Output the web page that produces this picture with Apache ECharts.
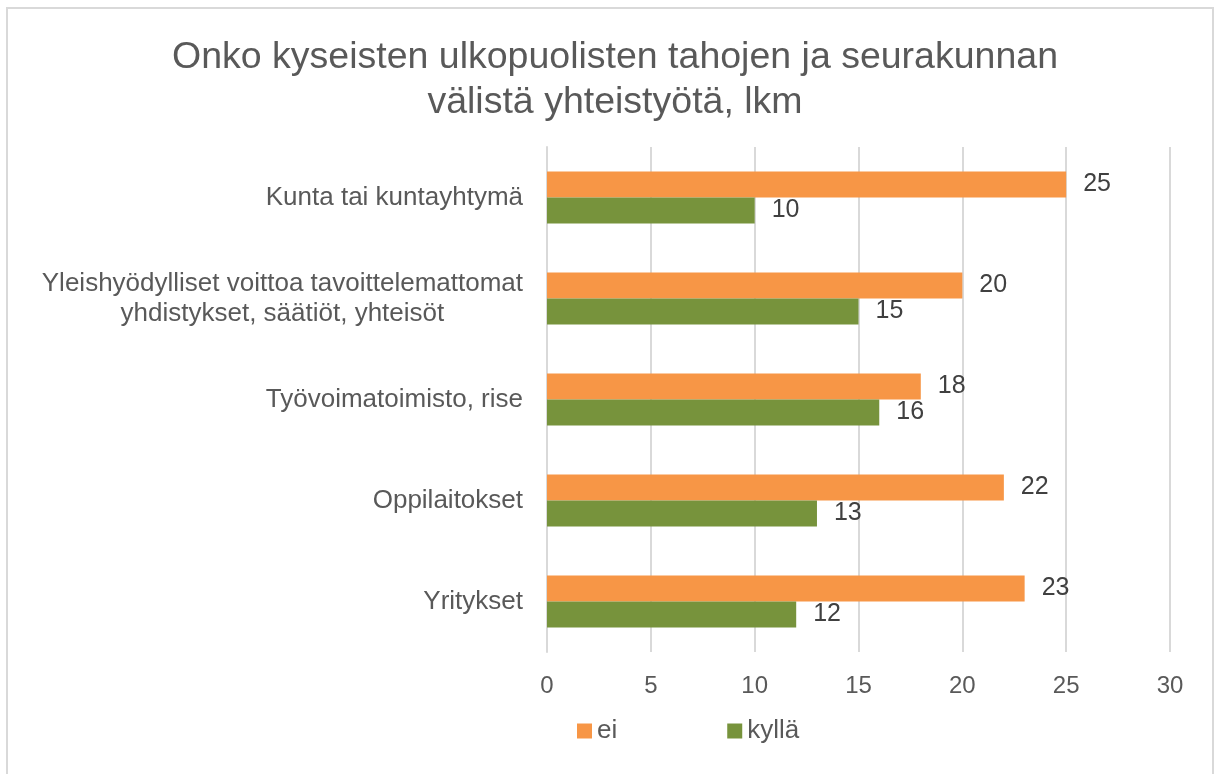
<!DOCTYPE html>
<html>
<head>
<meta charset="utf-8">
<script src="https://cdn.jsdelivr.net/npm/echarts@6/dist/echarts.min.js"></script>
<style>
  html, body { margin: 0; padding: 0; background: #fff; }
  #chart { width: 1214px; height: 774px; }
</style>
</head>
<body>
<div id="chart"></div>
<script>
// luokat ylhäältä alas
const categories = [
  "Kunta tai kuntayhtymä",
  "Yleishyödylliset voittoa tavoittelemattomat\nyhdistykset, säätiöt, yhteisöt",
  "Työvoimatoimisto, rise",
  "Oppilaitokset",
  "Yritykset",
];
const eiValues = [25, 20, 18, 22, 23];
const kyllaValues = [10, 15, 16, 13, 12];
const xTicks = [0, 5, 10, 15, 20, 25, 30];

const chart = echarts.init(document.getElementById("chart"));

const labelFont = "'Liberation Sans', Arial, sans-serif";

const option = {
  textStyle: { fontFamily: labelFont },
  graphic: [
    {
      type: "rect",
      shape: { x: 7, y: 8, width: 1206, height: 780 },
      style: { fill: "none", stroke: "#d9d9d9", lineWidth: 2 },
      silent: true,
    },
  ],
  title: {
    text: "Onko kyseisten ulkopuolisten tahojen ja seurakunnan\nvälistä yhteistyötä, lkm",
    left: 610,
    top: 30,
    textAlign: "center",
    textStyle: {
      fontFamily: labelFont,
      fontSize: 37.5,
      fontWeight: "normal",
      color: "#595959",
      lineHeight: 45,
    },
  },
  legend: {
    data: ["ei", "kyllä"],
    left: 572,
    top: 713,
    itemWidth: 15,
    itemHeight: 15,
    itemGap: 110,
    icon: "rect",
    textStyle: { fontSize: 26, color: "#595959", fontFamily: labelFont },
  },
  grid: {
    left: 547,
    right: 44,
    top: 147,
    bottom: 122,
  },
  xAxis: {
    type: "value",
    min: xTicks[0],
    max: xTicks[xTicks.length - 1],
    interval: 5,
    axisLine: { show: false },
    axisTick: { show: false },
    splitLine: { lineStyle: { color: "#d9d9d9", width: 2 } },
    axisLabel: { fontSize: 24, color: "#595959", margin: 22 },
  },
  yAxis: {
    type: "category",
    data: categories,
    inverse: true,
    axisLine: { show: true, lineStyle: { color: "#d9d9d9", width: 2 } },
    axisTick: { show: false },
    axisLabel: {
      fontSize: 26,
      color: "#595959",
      margin: 24,
      lineHeight: 30,
      formatter: (v) =>
        v.split("\n").map((s) => "{c|" + s + "}").join("\n"),
      rich: { c: { align: "center", fontSize: 26, lineHeight: 30, color: "#595959" } },
    },
  },
  series: [
    {
      name: "ei",
      type: "bar",
      data: eiValues,
      barWidth: 26,
      barGap: "0%",
      itemStyle: { color: "#f79646" },
      label: {
        show: true,
        position: "right",
        distance: 17,
        fontSize: 25,
        color: "#404040",
      },
    },
    {
      name: "kyllä",
      type: "bar",
      data: kyllaValues,
      barWidth: 26,
      barGap: "0%",
      itemStyle: { color: "#77933c" },
      label: {
        show: true,
        position: "right",
        distance: 17,
        fontSize: 25,
        color: "#404040",
      },
    },
  ],
};

chart.setOption(option);
</script>
</body>
</html>
